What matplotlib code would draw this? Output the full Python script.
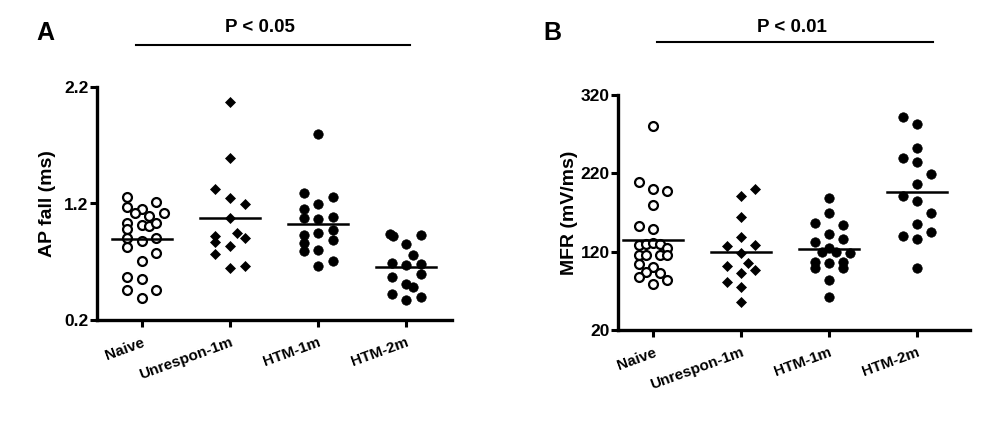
import numpy as np
import matplotlib
matplotlib.use("Agg")
import matplotlib.pyplot as plt
from matplotlib.lines import Line2D

plt.rcParams['font.family'] = ['Liberation Sans', 'DejaVu Sans']
plt.rcParams['font.weight'] = 'bold'

groups = ["Naive", "Unrespon-1m", "HTM-1m", "HTM-2m"]

# Panel A: AP fall (ms)
ap_naive = [1.253, 1.173, 1.150, 1.210, 1.116, 1.096, 1.121, 1.035, 1.013, 1.007, 1.030, 0.978,
            0.901, 0.878, 0.901, 0.829, 0.772, 0.709, 0.566, 0.555, 0.458, 0.458, 0.389]
ap_naive_col = [-1, -1, 0, 1, -0.5, 0.5, 1.5, -1, 0, 0.5, 1, -1,
                -1, 0, 1, -1, 1, 0, -1, 0, -1, 1, 0]
ap_unres = [2.068, 1.593, 1.324, 1.250, 1.199, 1.078, 0.924, 0.944, 0.907, 0.867, 0.835, 0.767, 0.666, 0.643]
ap_unres_col = [0, 0, -1, 0, 1, 0, -1, 0.5, 1, -1, 0, -1, 1, 0]
ap_htm1 = [1.797, 1.287, 1.253, 1.193, 1.153, 1.078, 1.064, 1.087, 0.973, 0.930, 0.944, 0.887,
           0.864, 0.792, 0.801, 0.709, 0.666]
ap_htm1_col = [0, -1, 1, 0, -1, -1, 0, 1, 1, -1, 0, 1, -1, -1, 0, 1, 0]
ap_htm2 = [0.938, 0.921, 0.930, 0.852, 0.755, 0.686, 0.672, 0.681, 0.592, 0.566, 0.506, 0.486,
           0.423, 0.400, 0.372]
ap_htm2_col = [-1.1, -0.9, 1, 0, 0.5, -1, 0, 1, 1, -1, 0, 0.5, -1, 1, 0]

# Panel B: MFR (mV/ms)
mfr_naive = [280.4, 209.4, 200.4, 197.4, 179.1, 152.8, 148.9, 128.5, 129.8, 130.6, 129.8, 124.3,
             115.7, 115.7, 115.7, 115.7, 104.3, 100.0, 94.5, 92.3, 88.1, 83.8, 78.7]
mfr_naive_col = [0, -1, 0, 1, 0, -1, 0, -1, -0.5, 0, 0.5, 1,
                 -1, -0.5, 0.5, 1, -1, 0, -0.5, 0.5, -1, 1, 0]
mfr_unres = [199.6, 191.1, 163.8, 139.1, 127.7, 128.5, 117.9, 106.0, 101.7, 96.6, 93.2, 80.9, 74.5, 56.2]
mfr_unres_col = [1, 0, 0, 0, -1, 1, 0, 0.5, -1, 1, 0, -1, 0, 0]
mfr_htm1 = [188.1, 169.8, 156.2, 154.0, 142.6, 136.2, 132.8, 124.3, 119.1, 119.1, 118.7, 107.2,
            106.0, 107.2, 98.7, 98.7, 83.8, 62.6]
mfr_htm1_col = [0, 0, -1, 1, 0, 1, -1, 0, -0.5, 0.5, 1.5, -1, 0, 1, -1, 1, 0, 0]
mfr_htm2 = [292.3, 282.6, 252.8, 240.0, 234.0, 218.7, 206.0, 191.5, 184.7, 169.8, 154.9, 140.0,
            135.7, 144.7, 98.7]
mfr_htm2_col = [-1, 0, 0, -1, 0, 1, 0, -1, 0, 1, 0, -1, 0, 1, 0]

panel_a = [(ap_naive, ap_naive_col), (ap_unres, ap_unres_col), (ap_htm1, ap_htm1_col), (ap_htm2, ap_htm2_col)]
panel_b = [(mfr_naive, mfr_naive_col), (mfr_unres, mfr_unres_col), (mfr_htm1, mfr_htm1_col), (mfr_htm2, mfr_htm2_col)]

styles = [dict(marker='o', mfc='white', mec='black', mew=1.6, ms=6.4),
          dict(marker='D', mfc='black', mec='black', mew=0.5, ms=5.4),
          dict(marker='o', mfc='black', mec='black', mew=0.5, ms=6.8),
          dict(marker='o', mfc='black', mec='black', mew=0.5, ms=6.8)]

fig = plt.figure(figsize=(9.96, 4.21), dpi=100)
axA = fig.add_axes([97/996, 1-320/421, 355/996, 233/421])
axB = fig.add_axes([618/996, 1-330/421, 352/996, 235/421])

def draw(ax, data, col_w):
    for i, (vals, cols) in enumerate(data):
        x = i + np.array(cols) * col_w
        ax.plot(x, vals, linestyle='none', **styles[i], zorder=3)
        m = np.mean(vals)
        ax.plot([i - 0.34, i + 0.34], [m, m], color='black', lw=1.8, zorder=4)
    for s in ['top', 'right']:
        ax.spines[s].set_visible(False)
    for s in ['left', 'bottom']:
        ax.spines[s].set_linewidth(2.4)
    ax.set_xticks(range(len(groups)))
    ax.set_xticklabels(groups, rotation=20, ha='right', rotation_mode='anchor',
                       fontsize=11, fontweight='bold')
    ax.tick_params(axis='x', length=5, width=2.2, pad=6)
    ax.tick_params(axis='y', length=5, width=2.2, pad=1, labelsize=12.5)
    for lab in ax.get_yticklabels():
        lab.set_fontweight('bold')

draw(axA, panel_a, 0.165)
axA.set_xlim(-0.51, 3.52)
axA.set_ylim(0.2, 2.2)
axA.set_yticks([0.2, 1.2, 2.2])
axA.set_yticklabels(["0.2", "1.2", "2.2"])
axA.set_ylabel("AP fall (ms)", fontsize=14, fontweight='bold', labelpad=6)

draw(axB, panel_b, 0.16)
axB.set_xlim(-0.4, 3.6)
axB.set_ylim(20, 320)
axB.set_yticks([20, 120, 220, 320])
axB.set_ylabel("MFR (mV/ms)", fontsize=14, fontweight='bold', labelpad=2)

# panel letters and significance bars
fig.text(45/996, 1-33/421, "A", fontsize=18, fontweight='bold', ha='center', va='center')
fig.text(552/996, 1-33/421, "B", fontsize=18, fontweight='bold', ha='center', va='center')
fig.text(260/996, 1-27/421, "P < 0.05", fontsize=13.5, fontweight='bold', ha='center', va='center')
fig.text(792/996, 1-27/421, "P < 0.01", fontsize=13.5, fontweight='bold', ha='center', va='center')
fig.add_artist(Line2D([136/996, 410/996], [1-45/421, 1-45/421], color='black', lw=1.5))
fig.add_artist(Line2D([657/996, 933/996], [1-42/421, 1-42/421], color='black', lw=1.5))

fig.savefig("out.png", dpi=100)
